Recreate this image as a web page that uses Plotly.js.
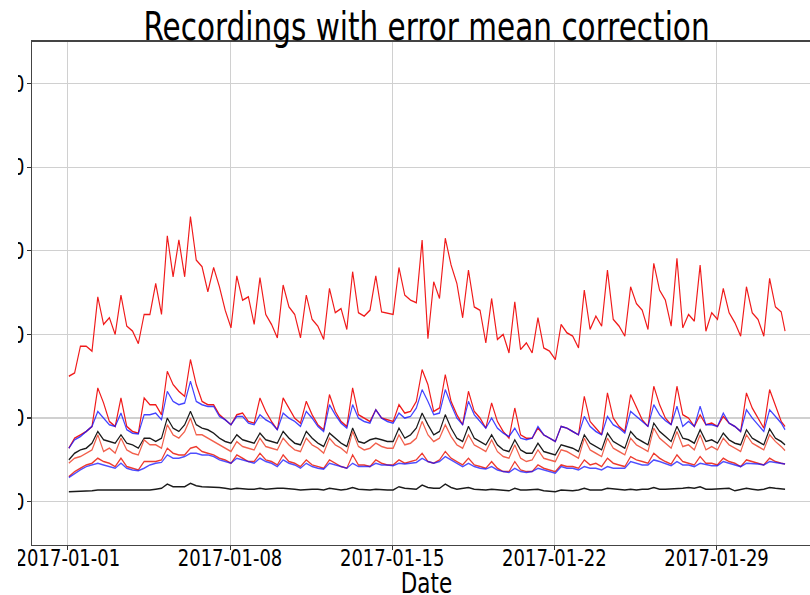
<!DOCTYPE html>
<html><head><meta charset="utf-8">
<script src="https://cdn.plot.ly/plotly-3.0.1.min.js"></script>
<style>
html,body{margin:0;padding:0;width:810px;height:595px;overflow:hidden;background:#fff;}
#wrap{position:absolute;left:-80px;top:0;width:921px;height:461px;transform:scaleY(1.3);transform-origin:0 0;}
#cover{position:absolute;left:0;top:0;width:18px;height:595px;background:#fff;z-index:5;}
</style></head><body>
<div id="wrap"><div id="chart" style="width:921px;height:461px;"></div></div>
<div id="cover"></div>
<script>
// Samples: each day of January 2017 at 01:00, 07:00, 13:00, 19:00, plus a last reading on 31 Jan 23:00
const sampleHours = [1, 7, 13, 19];
const numDays = 31;
const lastStamp = '2017-01-31 23:00';

const topRed = [
 150,154,186,186, 180,245,212,220, 200,247,210,204, 189,224,224,261,
 224,318,269,313, 269,341,289,281, 251,280,257,229, 208,270,241,245,
 212,268,224,212, 196,259,233,224, 196,247,218,210, 194,255,226,231,
 206,275,226,222, 229,270,227,226, 224,280,247,241, 238,313,195,263,
 243,315,283,261, 220,277,233,229, 190,243,194,200, 178,239,182,190,
 178,220,184,180, 170,212,202,198, 184,253,206,222, 210,277,218,210,
 198,257,237,229, 206,285,253,241, 210,291,208,224, 216,283,204,226,
 218,255,226,214, 198,257,226,218, 198,267,233,227, 204];
const upperRed = [
 64,76,80,84, 90,136,118,96, 90,124,90,84, 82,124,116,116,
 104,156,140,132, 126,170,140,120, 116,116,104,98, 92,104,106,96,
 94,124,108,96, 86,124,112,100, 94,120,104,92, 86,128,108,96,
 90,136,104,100, 96,110,100,98, 96,116,106,108, 120,158,140,108,
 112,152,120,104, 92,132,108,100, 88,118,96,84, 76,112,80,76,
 76,88,80,76, 72,90,88,84, 80,126,96,88, 80,130,100,90,
 84,128,112,98, 90,138,116,100, 92,138,104,100, 90,104,92,94,
 90,102,94,90, 84,130,112,100, 88,134,116,96, 90];
const upperBlue = [
 64,74,78,84, 90,108,100,92, 90,106,86,82, 81,104,104,106,
 98,132,120,116, 118,144,120,116, 114,114,102,98, 92,102,102,94,
 92,104,98,94, 86,106,100,96, 90,108,100,90, 84,116,104,94,
 88,116,100,96, 94,110,100,96, 94,106,100,102, 112,134,120,104,
 106,134,116,100, 92,120,104,96, 88,100,88,82, 78,88,76,74,
 76,90,80,76, 72,90,88,84, 80,102,90,84, 80,102,92,88,
 82,108,102,96, 90,116,104,97, 92,114,90,96, 90,114,92,92,
 90,106,94,90, 84,110,100,92, 84,110,102,94, 86];
const midBlack = [
 50,58,62,64, 70,84,74,72, 70,80,70,68, 64,76,76,72,
 76,100,88,84, 92,108,92,88, 86,82,76,72, 70,80,74,72,
 70,82,74,72, 70,84,76,70, 68,84,76,70, 66,82,76,70,
 66,88,72,70, 74,76,74,72, 72,88,76,80, 88,106,92,80,
 84,104,88,76, 72,90,76,72, 68,80,68,62, 60,74,62,58,
 58,70,60,58, 56,68,66,64, 60,80,70,66, 62,82,72,68,
 64,84,76,72, 68,94,84,78, 72,90,76,74, 70,86,72,74,
 70,82,74,70, 68,86,76,72, 68,87,76,72, 68];
const midTomato = [
 46,52,54,58, 62,80,60,64, 58,76,62,58, 56,74,68,68,
 64,92,80,76, 84,100,80,80, 76,72,68,64, 60,72,66,64,
 62,76,66,64, 62,76,68,62, 60,76,68,64, 58,76,68,64,
 58,84,66,62, 64,70,66,64, 64,80,68,70, 76,96,80,72,
 76,92,78,68, 64,80,68,64, 60,74,60,54, 52,68,52,48,
 50,62,52,50, 48,62,60,56, 52,76,62,58, 54,76,64,60,
 56,76,68,64, 60,88,76,70, 64,84,66,68, 62,80,62,66,
 62,76,68,64, 60,80,70,66, 62,80,72,66, 61];
const lowerRed = [
 30,36,40,44, 46,52,48,46, 42,52,42,40, 38,48,48,48,
 50,64,58,56, 56,64,66,60, 58,56,52,50, 46,56,52,48,
 48,58,50,48, 44,56,48,46, 42,50,44,42, 40,50,46,42,
 40,56,44,44, 42,50,46,44, 44,50,46,48, 50,58,48,46,
 50,60,52,48, 44,52,44,42, 40,48,40,36, 36,48,38,36,
 36,44,40,38, 36,44,42,42, 40,50,44,46, 42,52,46,44,
 42,54,50,48, 46,58,52,48, 45,56,48,46, 44,54,46,46,
 44,52,48,46, 42,50,48,46, 44,52,48,46, 45];
const lowerBlue = [
 29,34,38,42, 44,46,44,42, 40,46,40,38, 37,40,44,46,
 47,56,52,52, 54,58,58,56, 56,54,50,48, 46,52,50,48,
 46,52,48,46, 42,50,46,44, 40,46,42,40, 39,46,44,42,
 40,46,42,42, 42,46,44,44, 43,46,45,46, 47,52,48,46,
 48,54,50,46, 42,46,42,40, 39,42,38,36, 35,40,36,35,
 36,40,38,36, 34,42,40,40, 38,42,40,40, 38,42,40,40,
 40,48,46,44, 44,50,48,46, 43,48,44,44, 42,46,44,43,
 43,48,46,44, 42,46,46,45, 44,48,47,46, 45];
const bottomBlack = [
 12,12,12,13, 13,14,14,14, 14,14,14,13, 13,14,14,15,
 16,21,18,18, 18,22,19,18, 18,17,17,16, 15,16,15,15,
 15,16,15,16, 16,16,16,15, 14,15,15,15, 14,16,15,14,
 15,17,15,14, 14,15,14,14, 14,18,16,15, 15,20,17,16,
 16,21,17,15, 16,17,15,14, 14,15,14,13, 13,16,14,14,
 14,15,13,13, 12,14,13,13, 14,16,14,14, 14,16,15,14,
 14,15,14,15, 15,17,15,15, 15,16,16,17, 16,18,15,15,
 15,16,16,13, 14,16,15,14, 15,17,16,15, 15];

const xTickVals = ['2017-01-01', '2017-01-08', '2017-01-15', '2017-01-22', '2017-01-29'];
const xTickText = ['2017-01-01', '2017-01-08', '2017-01-15', '2017-01-22', '2017-01-29'];
const yTickVals = [0, 100, 200, 300, 400, 500];
const yTickText = ['0', '100', '200', '300', '400', '500'];

function stamp(d, h) {
  const dt = new Date(Date.UTC(2017, 0, 1 + d, h));
  return dt.toISOString().slice(0, 13).replace('T', ' ') + ':00';
}
const times = [];
for (let d = 0; d < numDays; d++) for (const h of sampleHours) times.push(stamp(d, h));
times.push(lastStamp);

function tr(y, color, w) {
  return {x: times, y: y, type: 'scatter', mode: 'lines', hoverinfo: 'skip', showlegend: false,
          line: {color: color, width: w || 1.15}};
}
const data = [
  tr(topRed, '#f01a1a'),
  tr(upperRed, '#f01a1a'),
  tr(upperBlue, 'rgba(20,20,255,0.8)'),
  tr(midBlack, '#1a1a1a'),
  tr(midTomato, '#f2604c'),
  tr(lowerRed, '#ee3a2e'),
  tr(lowerBlue, 'rgba(20,20,255,0.75)'),
  tr(bottomBlack, '#1a1a1a')
];

const font = 'DejaVu Sans, sans-serif';
const layout = {
  width: 921, height: 461,
  margin: {l: 112, r: 20, t: 32, b: 42},
  paper_bgcolor: '#fff', plot_bgcolor: '#fff',
  title: {text: 'Recordings with error mean correction', font: {family: font, size: 29.5, color: '#000'},
          x: 0.5, xref: 'paper', xanchor: 'center', y: 1 - 20.4 / 461, yref: 'container', yanchor: 'middle'},
  xaxis: {
    type: 'date', range: ['2016-12-30 10:50', '2017-02-02 12:14'],
    tickvals: xTickVals, ticktext: xTickText,
    tickfont: {family: font, size: 18, color: '#000'},
    ticks: 'outside', ticklen: 3, tickcolor: '#333', tickwidth: 1, ticklabelstandoff: -9,
    showgrid: true, gridcolor: '#d0d0d0', gridwidth: 1,
    showline: true, linecolor: '#444', linewidth: 1, mirror: true, zeroline: false,
    title: {text: 'Date', font: {family: font, size: 21.5, color: '#000'}, standoff: 20}
  },
  yaxis: {
    range: [-51.4, 550.2],
    tickvals: yTickVals, ticktext: yTickText,
    tickfont: {family: font, size: 18, color: '#000'},
    ticks: 'outside', ticklen: 4, tickcolor: '#333', tickwidth: 1, ticklabelstandoff: -1,
    showgrid: true, gridcolor: '#d0d0d0', gridwidth: 1,
    showline: true, linecolor: '#444', linewidth: 1, mirror: true, zeroline: false
  }
};
Plotly.newPlot('chart', data, layout, {staticPlot: true, displayModeBar: false});
</script>
</body></html>
